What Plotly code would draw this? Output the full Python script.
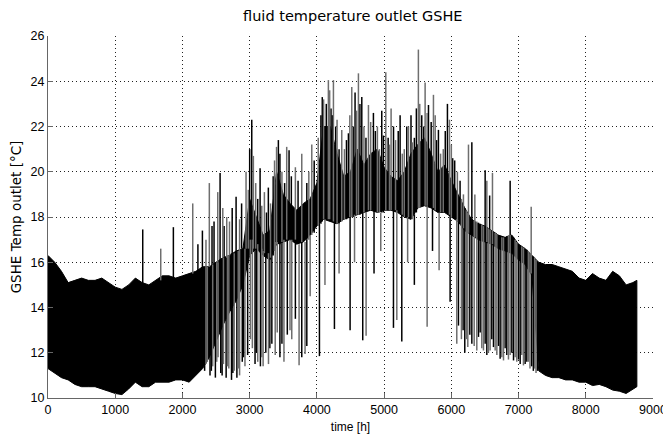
import plotly.graph_objects as go

# ---- dense band envelope ----
env_x = [0, 100, 200, 300, 400, 500, 600, 700, 800, 900, 1000, 1100, 1200, 1300, 1400, 1500,
         1600, 1700, 1800, 1900, 2000, 2100, 2200, 2300, 2400, 2500, 2600, 2700, 2800, 2900,
         3000, 3100, 3200, 3300, 3400, 3500, 3600, 3700, 3800, 3900, 4000, 4100, 4200, 4300,
         4400, 4500, 4600, 4700, 4800, 4900, 5000, 5100, 5200, 5300, 5400, 5500, 5600, 5700,
         5800, 5900, 6000, 6100, 6200, 6300, 6400, 6500, 6600, 6700, 6800, 6900, 7000, 7100,
         7200, 7300, 7400, 7500, 7600, 7700, 7800, 7900, 8000, 8100, 8200, 8300, 8400, 8500,
         8600, 8700, 8760]
env_hi = [16.3, 16.0, 15.6, 15.1, 15.2, 15.3, 15.2, 15.2, 15.3, 15.1, 14.9, 14.8, 15.0, 15.3, 15.1, 15.0,
          15.2, 15.4, 15.4, 15.3, 15.4, 15.5, 15.6, 15.8, 15.8, 16.0, 16.2, 16.3, 16.5, 16.6,
          18.8, 18.0, 17.2, 17.4, 20.0, 19.0, 18.6, 18.3, 18.6, 18.8, 19.5, 22.0, 22.0, 20.8,
          19.8, 20.0, 21.0, 20.3, 20.8, 21.0, 20.2, 19.8, 19.6, 20.0, 20.8, 21.2, 21.5, 20.8,
          20.0, 20.3, 19.6, 19.0, 18.4, 17.9, 17.7, 17.6, 17.4, 17.2, 17.1, 17.2, 16.8, 16.6,
          16.3, 16.0, 15.9, 15.9, 15.8, 15.7, 15.6, 15.3, 15.2, 15.5, 15.3, 15.2, 15.6, 15.4,
          15.0, 15.1, 15.2]
env_lo = [11.3, 11.1, 10.9, 10.8, 10.6, 10.5, 10.5, 10.5, 10.4, 10.3, 10.2, 10.15, 10.4, 10.7, 10.5, 10.5,
          10.7, 10.7, 10.7, 10.8, 10.8, 10.7, 11.0, 11.3, 11.8, 12.5, 13.2, 13.8, 14.3, 15.0,
          16.3, 16.6, 16.3, 16.1, 16.8, 16.9, 17.0, 16.8, 16.9, 17.2, 17.6, 17.9, 17.8, 17.7,
          17.9, 18.0, 18.1, 18.2, 18.3, 18.2, 18.3, 18.3, 18.2, 18.0, 17.9, 18.4, 18.5, 18.4,
          18.2, 18.2, 18.0, 17.8, 17.4, 17.2, 17.0, 16.9, 16.8, 16.6, 16.5, 16.4, 16.1, 15.9,
          15.4, 11.2, 11.0, 10.9, 10.9, 10.8, 10.8, 10.7, 10.7, 10.55, 10.6, 10.5, 10.35, 10.3,
          10.2, 10.4, 10.5]

# ---- downward strokes: x, top, bottom ----
down_x = [2330, 2370, 2410, 2450, 2490, 2530, 2570, 2610, 2650, 2690, 2730, 2770, 2810, 2850, 2890,
          2930, 2970, 3040, 3080, 3120, 3160, 3200, 3240, 3280, 3330, 3380, 3450, 3510, 3560, 3626,
          3680, 3735, 3775, 3824, 3850, 3900, 4038, 4120, 4261, 4330, 4494, 4560, 4682, 4732, 4850,
          4950, 5139, 5189, 5263, 5350, 5450, 5640, 5720, 5818, 5982, 6081, 6106, 6150, 6200, 6245,
          6305, 6379, 6429, 6478, 6528, 6577, 6627, 6677, 6726, 6776, 6825, 6875, 6925, 6974, 7024,
          7073, 7123, 7170, 7220, 7260,
          6175, 6222, 6275, 6340, 6404, 6453, 6503, 6552, 6602, 6652, 6701, 6751, 6800, 6850, 6900,
          6949, 6999, 7048, 7098, 7146, 7195, 7240, 7280,
          2350, 2430, 2510, 2590, 2670, 2750, 2830, 2910, 3010, 3100, 3180, 3300, 3410, 3480, 3600]
down_top = [15.8, 15.8, 15.8, 15.9, 16.0, 16.0, 16.1, 16.2, 16.2, 16.3, 16.4, 16.4, 16.5, 16.5, 16.6,
            16.6, 16.8, 17.0, 16.8, 16.8, 16.6, 16.5, 16.4, 16.4, 16.5, 16.9, 17.0, 17.0, 17.0, 17.0,
            16.9, 16.8, 16.9, 16.9, 17.0, 17.2, 17.7, 17.9, 17.8, 17.7, 18.0, 18.1, 18.2, 18.2, 18.3,
            18.2, 18.3, 18.3, 18.2, 18.0, 18.1, 18.5, 18.4, 18.2, 18.1, 17.9, 17.8, 18.8, 18.4, 18.2,
            17.9, 17.8, 17.7, 17.6, 17.55, 17.45, 17.35, 17.25, 17.15, 17.1, 17.15, 17.2, 17.1, 16.9, 16.75,
            16.65, 16.55, 16.4, 16.25, 16.1,
            18.6, 18.3, 18.0, 17.85, 17.75, 17.65, 17.6, 17.5, 17.4, 17.3, 17.2, 17.1, 17.1, 17.2, 17.15,
            17.0, 16.8, 16.7, 16.6, 16.5, 16.3, 16.2, 16.0,
            15.8, 15.8, 16.0, 16.1, 16.3, 16.4, 16.5, 16.6, 17.0, 16.8, 16.6, 16.4, 16.9, 17.0, 17.0]
down_bot = [11.2, 11.6, 11.0, 11.4, 10.9, 11.8, 11.1, 11.5, 10.9, 11.3, 10.8, 11.2, 10.9, 11.0, 11.6,
            11.4, 11.9, 12.2, 11.5, 11.6, 11.4, 11.4, 12.0, 11.5, 12.4, 11.9, 11.8, 11.6, 12.8, 12.6,
            13.5, 11.45, 11.8, 11.95, 12.3, 14.5, 11.85, 15.0, 13.05, 15.5, 13.0, 16.0, 12.55, 12.75, 15.5,
            16.5, 13.1, 13.45, 12.5, 16.0, 15.0, 13.15, 16.5, 15.65, 14.25, 12.4, 13.2, 12.6, 12.0, 12.25,
            12.4, 12.1, 12.9, 12.1, 11.9, 12.1, 12.25, 11.9, 11.74, 11.66, 11.9, 11.9, 11.66, 11.6, 11.5,
            11.44, 11.6, 11.3, 11.2, 11.1,
            13.0, 12.6, 12.8, 12.3, 12.7, 12.2, 12.4, 12.0, 12.6, 12.1, 12.3, 11.8, 12.2, 11.7, 12.0,
            11.8, 11.7, 11.9, 11.5, 11.6, 11.4, 11.3, 11.2,
            11.5, 11.2, 11.6, 11.0, 11.4, 11.1, 11.3, 11.8, 12.6, 12.0, 11.8, 12.2, 12.9, 12.4, 13.0]

# ---- upward spikes: x, base, top ----
up_x = [1409, 1677, 1865, 2153, 2297, 2400, 2470, 2525, 2560, 2659, 2798, 2946, 3031, 3055, 3155,
        3219, 3278, 3400, 3427, 3551, 3586, 3775, 3850, 3924, 4060, 4100, 4140, 4171, 4210, 4246,
        4280, 4370, 4469, 4519, 4568, 4618, 4668, 4767, 4841, 4900, 4965, 5025, 5060, 5104, 5238,
        5300, 5337, 5362, 5450, 5510, 5560, 5610, 5660, 5734, 5808, 5880, 5942, 5972, 6050, 6255,
        6305, 6350, 6503, 6528, 6570, 6612, 6875, 7188,
        3620, 3680, 3720, 3880, 3960, 4020, 4080, 4190, 4230, 4300, 4330, 4410, 4440, 4490, 4540,
        4590, 4640, 4700, 4730, 4800, 4870, 4930, 4990, 5080, 5140, 5170, 5210, 5270, 5400, 5420,
        5480, 5530, 5590, 5640, 5700, 5760, 5780, 5840, 5910, 6000, 6020, 6090, 6130, 6180,
        2230, 2350, 2440, 2600, 2620, 2700, 2740, 2850, 2880, 2980, 3000, 3090, 3120, 3180, 3250,
        3310, 3350, 3370, 3450, 3480, 3520]
up_base = [15.0, 15.2, 15.3, 15.5, 15.7, 15.8, 15.9, 16.0, 16.0, 16.2, 16.4, 16.6, 16.6, 16.6, 16.6,
           16.4, 16.4, 16.8, 16.8, 17.0, 17.0, 16.9, 17.0, 17.2, 17.7, 17.9, 17.9, 17.9, 17.8, 17.8,
           17.7, 17.8, 18.0, 18.0, 18.1, 18.1, 18.2, 18.3, 18.3, 18.2, 18.2, 18.3, 18.3, 18.3, 18.2,
           18.0, 18.0, 18.0, 18.1, 18.4, 18.5, 18.5, 18.5, 18.4, 18.2, 18.2, 18.2, 18.1, 17.9, 17.3,
           17.2, 17.1, 16.9, 16.9, 16.9, 16.8, 16.4, 15.5,
           17.0, 17.0, 16.9, 17.0, 17.3, 17.6, 17.8, 17.9, 17.8, 17.7, 17.7, 17.9, 17.9, 18.0, 18.0,
           18.1, 18.1, 18.2, 18.2, 18.3, 18.3, 18.2, 18.2, 18.3, 18.3, 18.3, 18.2, 18.1, 17.9, 17.9,
           18.2, 18.4, 18.5, 18.5, 18.4, 18.3, 18.3, 18.2, 18.2, 18.0, 18.0, 17.8, 17.7, 17.5,
           15.6, 15.8, 15.8, 16.2, 16.2, 16.3, 16.4, 16.5, 16.6, 16.6, 16.4, 16.6, 16.6, 16.4, 16.4,
           16.2, 16.3, 16.5, 16.8, 16.9, 16.9]
up_top = [17.45, 16.6, 17.55, 18.6, 17.4, 19.5, 17.8, 19.1, 19.95, 18.0, 18.9, 20.0, 22.3, 20.7, 20.15,
          19.1, 19.3, 21.1, 21.4, 21.1, 20.95, 20.8, 19.5, 21.2, 22.5, 23.2, 23.0, 24.05, 22.8, 24.05,
          22.0, 21.85, 21.7, 23.75, 23.5, 24.35, 23.3, 22.95, 22.6, 22.0, 22.7, 24.4, 21.5, 22.8, 22.5,
          21.0, 22.0, 22.0, 21.5, 25.4, 22.5, 23.95, 22.95, 23.4, 21.85, 21.0, 23.0, 22.3, 20.5, 21.2,
          21.3, 19.0, 20.07, 19.6, 18.95, 19.95, 19.6, 18.45,
          19.8, 20.2, 19.6, 20.0, 20.5, 21.5, 23.3, 23.6, 22.5, 22.3, 21.0, 21.0, 21.4, 22.5, 22.0,
          22.7, 23.0, 22.0, 21.5, 22.2, 21.8, 21.0, 21.6, 21.2, 22.0, 21.4, 21.8, 20.8, 22.5, 21.3,
          22.8, 23.0, 22.0, 22.6, 22.2, 22.5, 21.4, 20.8, 21.8, 21.2, 20.6, 20.0, 19.6, 19.0,
          16.8, 17.0, 17.6, 18.4, 17.6, 17.8, 18.4, 17.9, 18.6, 19.2, 21.0, 19.5, 18.8, 18.5, 18.2,
          18.6, 19.8, 20.5, 20.8, 20.0, 19.5]

x_ticks = [0, 1000, 2000, 3000, 4000, 5000, 6000, 7000, 8000, 9000]
y_ticks = [10, 12, 14, 16, 18, 20, 22, 24, 26]


def segments(xs, y0s, y1s):
    sx, sy = [], []
    for x, a, b in zip(xs, y0s, y1s):
        sx += [x, x, None]
        sy += [a, b, None]
    return sx, sy


fig = go.Figure()

# band polygon
fig.add_trace(go.Scatter(
    x=env_x + env_x[::-1], y=env_hi + env_lo[::-1],
    mode="lines", fill="toself", fillcolor="black",
    line=dict(color="black", width=1), hoverinfo="skip", showlegend=False))

# strokes: alternate black / grey to mimic the antialiased look
for k, col in enumerate(["black", "#6e6e6e"]):
    sx, sy = segments(down_x[k::2], down_top[k::2], down_bot[k::2])
    fig.add_trace(go.Scatter(x=sx, y=sy, mode="lines",
                             line=dict(color=col, width=1.5), showlegend=False, hoverinfo="skip"))
    ux, uy = segments(up_x[k::2], up_base[k::2], up_top[k::2])
    fig.add_trace(go.Scatter(x=ux, y=uy, mode="lines",
                             line=dict(color=col, width=1.5), showlegend=False, hoverinfo="skip"))

font = "Liberation Sans, Arial, sans-serif"
wide = "DejaVu Sans, Liberation Sans, sans-serif"
# the page body adds an 8px offset, so the figure is sized to fill the rest of the window
fig.update_layout(
    width=663, height=430,
    margin=dict(l=40, r=18, t=28, b=40, autoexpand=False),
    paper_bgcolor="white", plot_bgcolor="white",
    font=dict(family=font, size=12, color="black"),
    title=dict(text="fluid temperature outlet GSHE", x=0.52, xanchor="center",
               y=0.993, yanchor="top", font=dict(size=14.5, family=wide),
               pad=dict(t=0, b=0)),
    xaxis=dict(range=[0, 9000], tickvals=x_ticks, ticktext=[str(v) for v in x_ticks],
               showgrid=True, gridcolor="#222222", griddash="1px,3px", gridwidth=1,
               showline=True, linecolor="#666666", linewidth=1,
               ticks="inside", ticklen=5, tickcolor="#666666",
               zeroline=False, tickfont=dict(size=12.5), automargin=False,
               title=dict(text="time [h]", font=dict(size=12), standoff=6)),
    yaxis=dict(range=[10, 26], tickvals=y_ticks, ticktext=[str(v) for v in y_ticks],
               showgrid=True, gridcolor="#222222", griddash="1px,3px", gridwidth=1,
               showline=True, linecolor="#666666", linewidth=1,
               ticks="inside", ticklen=5, tickcolor="#666666",
               zeroline=False, tickfont=dict(size=12.5), automargin=False,
               title=dict(text="GSHE Temp outlet [°C]", font=dict(size=13.5, family=wide),
                          standoff=6)),
)

fig.write_html("out.html")
